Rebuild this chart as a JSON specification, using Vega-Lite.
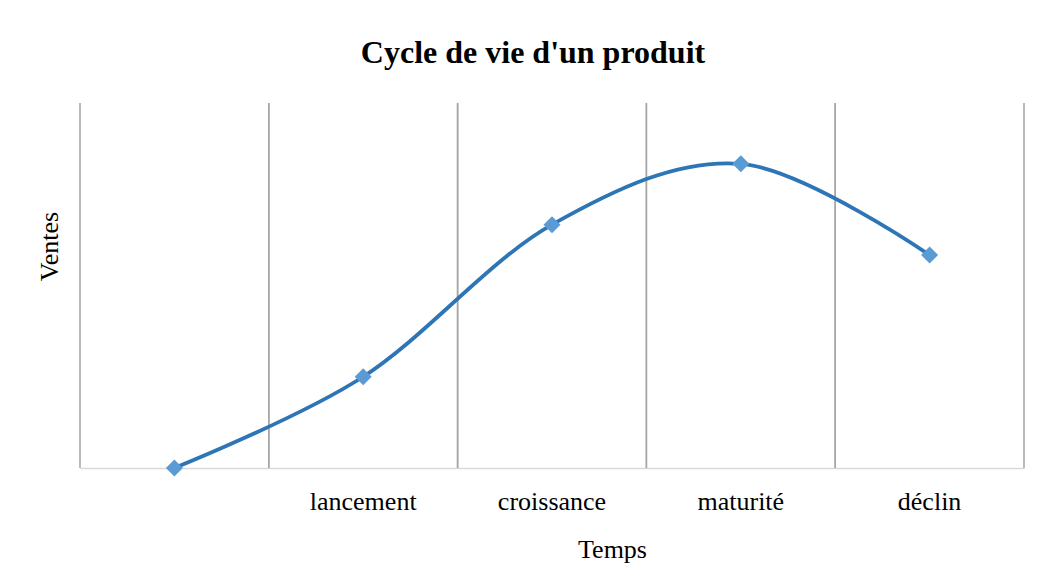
{
  "$schema": "https://vega.github.io/schema/vega-lite/v6.json",
  "width": 944,
  "height": 365,
  "autosize": {"type": "none"},
  "padding": {"left": 80, "top": 103, "right": 20, "bottom": 117},
  "background": "white",
  "title": {
    "text": "Cycle de vie d'un produit",
    "font": "Liberation Serif",
    "fontSize": 32,
    "fontWeight": "bold",
    "color": "black",
    "baseline": "alphabetic",
    "offset": 41,
    "dx": -19,
    "dy": 34
  },
  "config": {
    "view": {"stroke": null},
    "font": "Liberation Serif"
  },
  "data": {
    "values": [
      {"phase": "", "ventes": 0},
      {"phase": "lancement", "ventes": 1.5},
      {"phase": "croissance", "ventes": 4},
      {"phase": "maturité", "ventes": 5},
      {"phase": "déclin", "ventes": 3.5}
    ]
  },
  "encoding": {
    "x": {
      "field": "phase",
      "type": "nominal",
      "sort": null,
      "scale": {"paddingInner": 0, "paddingOuter": 0},
      "axis": {
        "title": "Temps",
        "labelAngle": 0,
        "ticks": false,
        "grid": false,
        "domainColor": "#d9d9d9",
        "domainWidth": 1.5,
        "labelFont": "Liberation Serif",
        "labelFontSize": 26,
        "labelColor": "black",
        "labelBaseline": "alphabetic",
        "labelPadding": 41,
        "titleFont": "Liberation Serif",
        "titleFontSize": 26,
        "titleFontWeight": "normal",
        "titleColor": "black",
        "titleBaseline": "alphabetic",
        "titleX": 532,
        "titleY": 89
      }
    }
  },
  "layer": [
    {
      "mark": {"type": "rule", "color": "#a6a6a6", "strokeWidth": 1.5},
      "encoding": {
        "x": {"field": "phase", "type": "nominal", "sort": null, "bandPosition": 0}
      }
    },
    {
      "mark": {"type": "rule", "color": "#a6a6a6", "strokeWidth": 1.5},
      "encoding": {
        "x": {"field": "phase", "type": "nominal", "sort": null, "bandPosition": 1}
      }
    },
    {
      "mark": {"type": "line", "interpolate": "cardinal", "color": "#2e75b6", "strokeWidth": 3.8},
      "encoding": {
        "y": {
          "field": "ventes",
          "type": "quantitative",
          "scale": {"domain": [0, 6]},
          "axis": {
            "title": "Ventes",
            "labels": false,
            "ticks": false,
            "domain": false,
            "grid": false,
            "titleFont": "Liberation Serif",
            "titleFontSize": 26,
            "titleFontWeight": "normal",
            "titleColor": "black",
            "titleAngle": -90,
            "titleBaseline": "alphabetic",
            "titleX": -23,
            "titleY": 143
          }
        }
      }
    },
    {
      "mark": {"type": "point", "shape": "diamond", "filled": true, "size": 290, "color": "#5b9bd5", "opacity": 1},
      "encoding": {
        "y": {"field": "ventes", "type": "quantitative"}
      }
    }
  ]
}
